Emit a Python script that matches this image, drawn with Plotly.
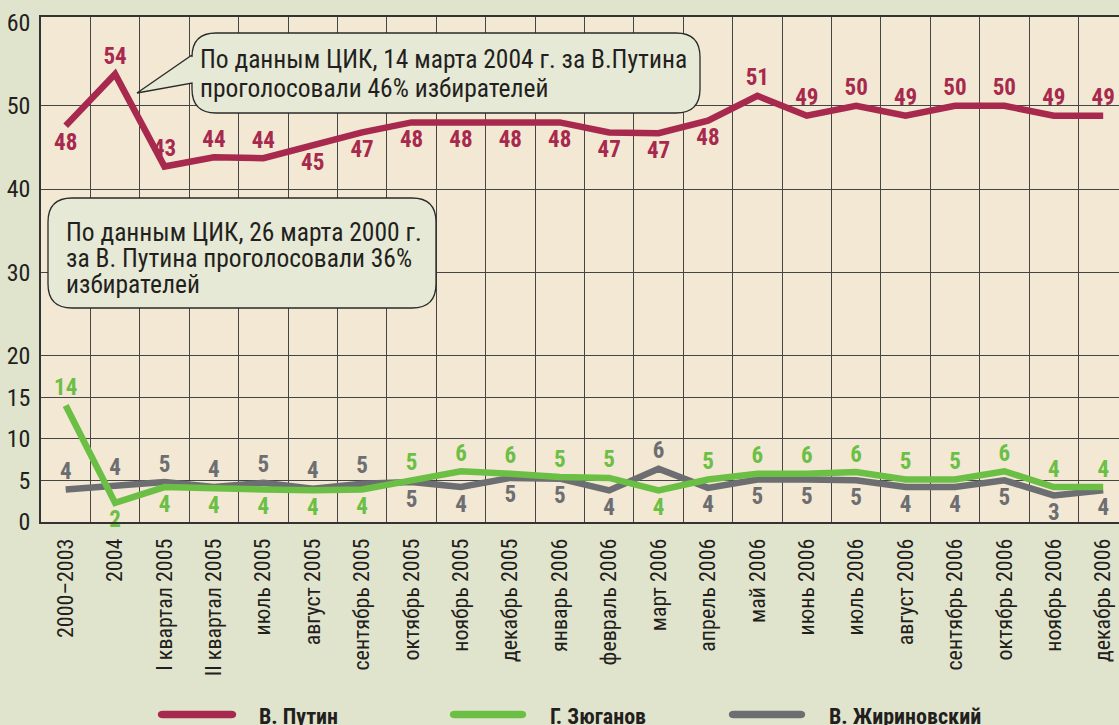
import plotly.graph_objects as go

# ---------------- data ----------------
categories = ["2000–2003", "2004", "I квартал 2005", "II квартал 2005", "июль 2005",
              "август 2005", "сентябрь 2005", "октябрь 2005", "ноябрь 2005",
              "декабрь 2005", "январь 2006", "февраль 2006", "март 2006",
              "апрель 2006", "май 2006", "июнь 2006", "июль 2006", "август 2006",
              "сентябрь 2006", "октябрь 2006", "ноябрь 2006", "декабрь 2006"]

putin = [47.6, 53.8, 42.7, 43.8, 43.7, 45.2, 46.8, 48.0, 48.0, 48.0, 48.0,
         46.8, 46.7, 48.2, 51.2, 48.8, 50.0, 48.8, 50.0, 50.0, 48.8, 48.8]
zyuganov = [14.0, 2.3, 4.2, 4.0, 3.9, 3.8, 3.9, 5.0, 6.1, 5.8, 5.4,
            5.3, 3.8, 5.1, 5.8, 5.8, 6.0, 5.1, 5.1, 6.1, 4.2, 4.2]
zhirinovsky = [3.9, 4.4, 4.8, 4.2, 4.7, 4.0, 4.6, 4.8, 4.2, 5.3, 5.2,
               3.8, 6.4, 4.1, 5.1, 5.1, 5.0, 4.2, 4.2, 5.0, 3.2, 3.8]

y_ticks = [0, 5, 10, 15, 20, 30, 40, 50, 60]
y_grid = [5, 10, 15, 20, 30, 40, 50]

names = ["В. Путин", "Г. Зюганов", "В. Жириновский"]
note_2004 = ["По данным ЦИК, 14 марта 2004 г. за В.Путина",
             "проголосовали 46% избирателей"]
note_2000 = ["По данным ЦИК, 26 марта 2000 г.",
             "за В. Путина проголосовали 36%",
             "избирателей"]

# label side (U = above, D = below)
putin_side = "DUUUUDDDDDDDDDUUUUUUUU"
zyug_side = "UDDDDDDUUUUUDUUUUUUUUU"
zhir_side = "UUUUUUUDDDDDUDDDDDDDDD"

# ---------------- style ----------------
C_PUTIN = "#a8294e"
C_ZYUG = "#6cbf45"
C_ZHIR = "#6d6e71"
PAPER = "#e1e4cc"
PLOT = "#f2e8d3"
BOXFILL = "#e6e9d5"
INK = "#231f20"
FONT = "Roboto Condensed, Liberation Sans Narrow, DejaVu Sans Condensed, Roboto, sans-serif"

W, H = 1119, 725
L, R, T, B = 41, 1119, 17, 522


def fx(px):
    return (px - L) / (R - L)


def fy(py):
    return (B - py) / (B - T)


def fnt(size, color=INK, weight="normal"):
    return dict(family=FONT, size=size, color=color, weight=weight)


def pos(side):
    return ["top center" if s == "U" else "bottom center" for s in side]


x = list(range(len(categories)))
fig = go.Figure()

for vals, col, side, name in [(zhirinovsky, C_ZHIR, zhir_side, names[2]),
                              (zyuganov, C_ZYUG, zyug_side, names[1]),
                              (putin, C_PUTIN, putin_side, names[0])]:
    fig.add_trace(go.Scatter(
        x=x, y=vals, name=name, mode="lines+markers+text",
        line=dict(color=col, width=6.5),
        marker=dict(size=[6 if s == "U" else 10 for s in side],
                    color="rgba(0,0,0,0)", opacity=0,
                    line=dict(width=0, color="rgba(0,0,0,0)")),
        text=[f"{round(v):d}" for v in vals],
        textposition=pos(side),
        textfont=fnt(23, col, "bold"),
        cliponaxis=False, showlegend=False, hoverinfo="skip"))


def bubble(x0, y0, x1, y1, r, tail=None):
    pts = []
    pts.append(f"M{fx(x0 + r)},{fy(y0)}")
    pts.append(f"L{fx(x1 - r)},{fy(y0)}")
    pts.append(f"Q{fx(x1)},{fy(y0)} {fx(x1)},{fy(y0 + r)}")
    pts.append(f"L{fx(x1)},{fy(y1 - r)}")
    pts.append(f"Q{fx(x1)},{fy(y1)} {fx(x1 - r)},{fy(y1)}")
    pts.append(f"L{fx(x0 + r)},{fy(y1)}")
    pts.append(f"Q{fx(x0)},{fy(y1)} {fx(x0)},{fy(y1 - r)}")
    if tail:
        (bly, tipx, tipy, buy) = tail
        pts.append(f"L{fx(x0)},{fy(bly)}")
        pts.append(f"L{fx(tipx)},{fy(tipy)}")
        pts.append(f"L{fx(x0)},{fy(buy)}")
    pts.append(f"L{fx(x0)},{fy(y0 + r)}")
    pts.append(f"Q{fx(x0)},{fy(y0)} {fx(x0 + r)},{fy(y0)}")
    pts.append("Z")
    return " ".join(pts)


shapes = [
    dict(type="path", xref="paper", yref="paper",
         path=bubble(192, 33, 700, 113, 24, tail=(83, 137, 93, 55)),
         fillcolor=BOXFILL, line=dict(color="#2a2a2a", width=1.3)),
    dict(type="path", xref="paper", yref="paper",
         path=bubble(48, 198, 436, 308, 24),
         fillcolor=BOXFILL, line=dict(color="#2a2a2a", width=1.3)),
]


def pill(x0, x1, yc, h):
    r = h / 2
    return (f"M{fx(x0 + r)},{fy(yc - r)} L{fx(x1 - r)},{fy(yc - r)} "
            f"Q{fx(x1 + r * 0.3)},{fy(yc - r)} {fx(x1 + r * 0.3)},{fy(yc)} "
            f"Q{fx(x1 + r * 0.3)},{fy(yc + r)} {fx(x1 - r)},{fy(yc + r)} "
            f"L{fx(x0 + r)},{fy(yc + r)} "
            f"Q{fx(x0 - r * 0.3)},{fy(yc + r)} {fx(x0 - r * 0.3)},{fy(yc)} "
            f"Q{fx(x0 - r * 0.3)},{fy(yc - r)} {fx(x0 + r)},{fy(yc - r)} Z")


legend_items = [(C_PUTIN, 159, 235, 257), (C_ZYUG, 451, 525, 548), (C_ZHIR, 730, 804, 827)]
annotations = []
for (col, lx0, lx1, tx), name in zip(legend_items, names):
    shapes.append(dict(type="path", xref="paper", yref="paper", path=pill(lx0, lx1, 714.5, 7.5),
                       fillcolor=col, line=dict(width=0)))
    annotations.append(dict(xref="paper", yref="paper", x=fx(tx), y=fy(716),
                            xanchor="left", yanchor="middle", showarrow=False,
                            text=f"<b>{name}</b>", font=fnt(22, INK, "bold")))

for i, line in enumerate(note_2004):
    annotations.append(dict(xref="paper", yref="paper", x=fx(198), y=fy(59 + 28.5 * i),
                            xanchor="left", yanchor="middle", align="left", showarrow=False,
                            text=line, font=fnt(25.5)))
for i, line in enumerate(note_2000):
    annotations.append(dict(xref="paper", yref="paper", x=fx(64), y=fy(232 + 26 * i),
                            xanchor="left", yanchor="middle", align="left", showarrow=False,
                            text=line, font=fnt(25.5)))

fig.update_layout(
    width=W, height=H,
    margin=dict(l=L, r=W - R, t=T, b=H - B, pad=0, autoexpand=False),
    paper_bgcolor=PAPER, plot_bgcolor=PLOT,
    font=dict(family=FONT, color=INK),
    shapes=shapes, annotations=annotations,
    xaxis=dict(range=[-0.5, 21.32], tickmode="array", tickvals=x, ticktext=categories,
               tickangle=-90, tickfont=fnt(22), automargin=False,
               showgrid=False, zeroline=False, ticks="", ticklabelstandoff=6,
               showline=True, linecolor="#333333", linewidth=1.5, mirror=True,
               minor=dict(tickmode="array", tickvals=[i + 0.5 for i in x[:-1]],
                          showgrid=True, gridcolor="#454545", gridwidth=1.2, ticks="")),
    yaxis=dict(range=[0, 60.66], tickmode="array", tickvals=y_ticks,
               tickfont=fnt(24), automargin=False,
               showgrid=False, zeroline=False, ticks="", ticklabelstandoff=4,
               showline=True, linecolor="#333333", linewidth=1.5, mirror=True,
               minor=dict(tickmode="array", tickvals=y_grid,
                          showgrid=True, gridcolor="#454545", gridwidth=1.2, ticks="")),
)

fig.write_html("out.html", config={"displayModeBar": False},
               post_script="document.body.style.margin='0';"
                           "document.body.style.background='" + PAPER + "';")
